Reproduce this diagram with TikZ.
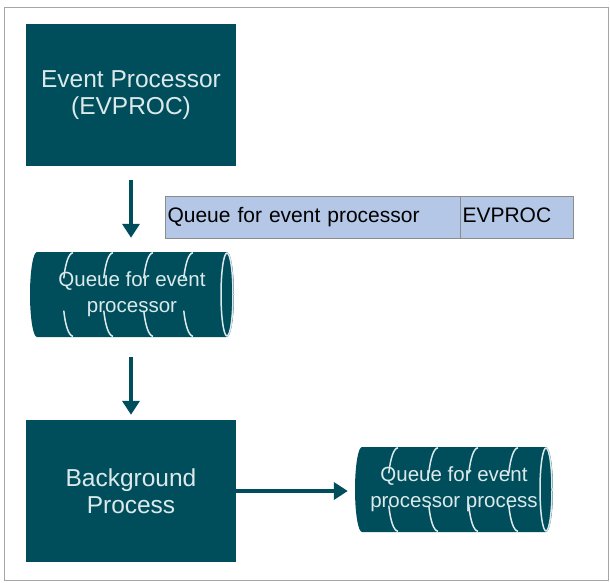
\documentclass[tikz,border=0pt]{standalone}
\usepackage{fontspec}
\setmainfont{Liberation Sans}
\usetikzlibrary{arrows.meta}

\definecolor{tealbox}{HTML}{004E5B}
\definecolor{boxtext}{HTML}{DCE9EB}
\definecolor{tabfill}{HTML}{B4C7E7}
\definecolor{tabline}{HTML}{8C8C8C}
\definecolor{framegray}{HTML}{A6A6A6}

\tikzset{
  procbox/.style={fill=tealbox, text=boxtext, minimum width=210pt, minimum height=142pt,
    inner sep=0pt, align=center, font=\fontsize{24.5}{27}\selectfont},
  rib/.style={draw=boxtext, line width=1.5pt},
  queue/.style={minimum height=85pt, inner sep=0pt, text=boxtext, align=center,
    font=\fontsize{20.5}{26}\selectfont,
    path picture={
      \path (path picture bounding box.north west) coordinate (qnw)
            (path picture bounding box.north east) coordinate (qne)
            (path picture bounding box.south west) coordinate (qsw)
            (path picture bounding box.south east) coordinate (qse)
            (path picture bounding box.east) coordinate (qe);
      \fill[tealbox] ([xshift=-7pt]qne) -- ([xshift=7pt]qnw)
        arc[start angle=90, end angle=270, x radius=7pt, y radius=42.5pt]
        -- ([xshift=-7pt]qse)
        arc[start angle=-90, end angle=90, x radius=7pt, y radius=42.5pt] -- cycle;
      \draw[rib] ([xshift=-7pt]qe) ellipse [x radius=6pt, y radius=41.5pt];
      \foreach \dx in {43,83,123,163} {
        \draw[rib] ([xshift=\dx pt, yshift=-0.8pt]qnw)
          arc[start angle=90, end angle=157, x radius=10pt, y radius=42pt];
        \draw[rib] ([xshift=\dx pt, yshift=0.8pt]qsw)
          arc[start angle=270, end angle=203, x radius=10pt, y radius=42pt];
      }
    }},
  tabcell/.style={draw=tabline, fill=tabfill, line width=1pt, minimum height=42pt,
    inner xsep=2.5pt, text height=15.5pt, text depth=4.5pt, align=left,
    font=\fontsize{21}{24}\selectfont},
  flow/.style={draw=tealbox, line width=4pt, -{Triangle[width=17pt,length=14pt]}},
}

\begin{document}
\begin{tikzpicture}[x=1pt, y=-1pt]
\useasboundingbox (0,0) rectangle (610,582);
% Outer frame
\draw[framegray, line width=1.5pt] (4.5,7.5) rectangle (608.5,580.5);

% Boxes and queues
\node[procbox] (evproc) at (131,95) {Event Processor\\(EVPROC)};
\node[queue, minimum width=204pt] (evqueue) at (132,294.5) {Queue for event\\processor};
\node[procbox] (bgproc) at (131,491) {Background\\Process};
\node[queue, minimum width=198pt] (procqueue) at (454,489.5) {Queue for event\\processor process};

% Table row
\node[tabcell, text width=290pt] (tabname) at (312.5,217) {Queue for event processor};
\node[tabcell, text width=108pt] (tabcode) at (516.5,217) {EVPROC};

% Arrows
\draw[flow, shorten <=14pt, shorten >=14pt] (evproc.south) -- (evproc.south |- evqueue.north);
\draw[flow, shorten <=20pt, shorten >=5pt] (evproc.south |- evqueue.south) -- (bgproc.north);
\draw[flow, shorten >=7pt] (bgproc.east) -- (bgproc.east -| procqueue.west);
\end{tikzpicture}
\end{document}
